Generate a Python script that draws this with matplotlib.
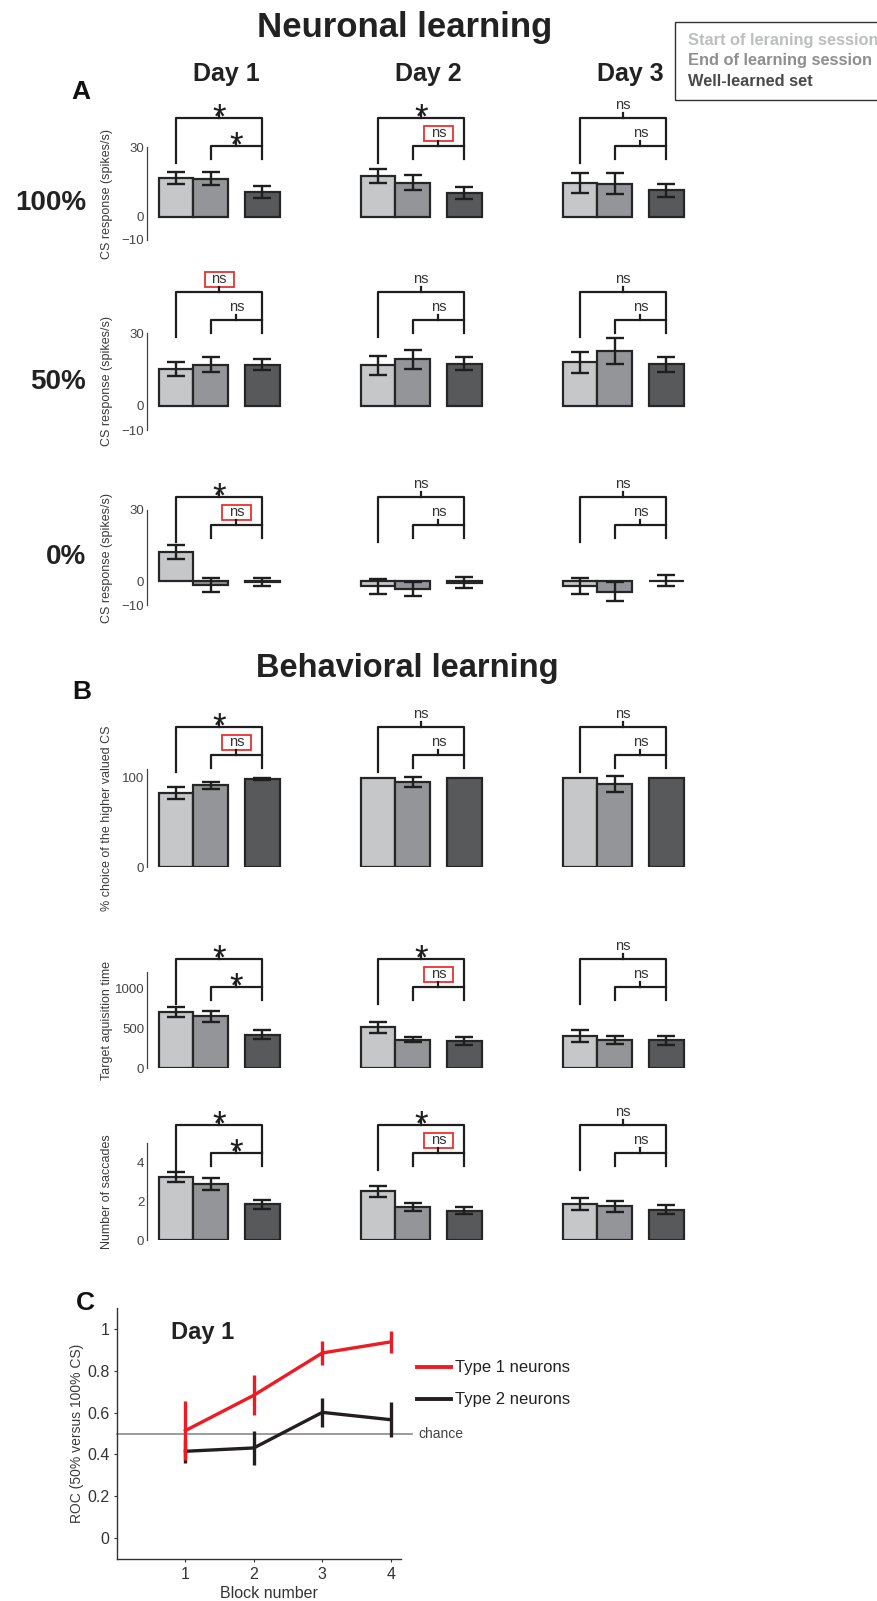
import numpy as np
import matplotlib
matplotlib.use('Agg')
import matplotlib.pyplot as plt
from matplotlib import font_manager
from matplotlib.transforms import blended_transform_factory
from matplotlib.patches import Rectangle
from matplotlib.lines import Line2D

# ---- data ----
days = ['Day 1', 'Day 2', 'Day 3']
conditions = ['Start of leraning session', 'End of learning session', 'Well-learned set']

# CS response (spikes/s) per day: [start, end, well-learned]
cs100_mean = [[16.7, 16.4, 10.7], [17.6, 14.7, 10.3], [14.7, 14.3, 11.4]]
cs100_sem = [[2.6, 2.9, 2.6], [3.1, 3.2, 2.6], [4.3, 4.4, 2.9]]
cs50_mean = [[15.1, 17.0, 17.0], [16.7, 19.1, 17.4], [17.9, 22.6, 17.2]]
cs50_sem = [[2.8, 3.1, 2.1], [4.0, 4.0, 2.5], [4.3, 5.3, 3.1]]
cs0_mean = [[12.3, -1.6, -0.3], [-2.2, -3.3, -0.7], [-2.1, -4.4, 0.3]]
cs0_sem = [[3.1, 3.0, 1.7], [3.2, 3.0, 2.3], [3.4, 4.0, 2.3]]

# behaviour
choice_mean = [[83, 91.5, 99], [100, 95.5, 100], [100, 93, 100]]
choice_sem = [[7.2, 4.3, 1.0], [0, 5.8, 0], [0, 8.7, 0]]
acq_mean = [[700, 646, 417], [508, 354, 333], [396, 354, 346]]
acq_sem = [[62, 65, 52], [69, 30, 50], [77, 52, 58]]
sacc_mean = [[3.25, 2.9, 1.83], [2.52, 1.70, 1.51], [1.86, 1.74, 1.57]]
sacc_sem = [[0.26, 0.30, 0.23], [0.28, 0.20, 0.19], [0.32, 0.29, 0.22]]

# significance per day: (start vs well-learned, end vs well-learned)
sig_cs100 = [('*', '*'), ('*', 'ns'), ('ns', 'ns')]
sig_cs50 = [('ns', 'ns'), ('ns', 'ns'), ('ns', 'ns')]
sig_cs0 = [('*', 'ns'), ('ns', 'ns'), ('ns', 'ns')]
sig_choice = [('*', 'ns'), ('ns', 'ns'), ('ns', 'ns')]
sig_acq = [('*', '*'), ('*', 'ns'), ('ns', 'ns')]
sig_sacc = [('*', '*'), ('*', 'ns'), ('ns', 'ns')]
# which label gets a red box (0 = upper bracket, 1 = lower bracket)
box_cs100 = [None, 1, None]
box_cs50 = [0, None, None]
box_cs0 = [1, None, None]
box_choice = [1, None, None]
box_acq = [None, 1, None]
box_sacc = [None, 1, None]

# ROC over blocks, day 1
blocks = [1, 2, 3, 4]
type1_roc = [0.514, 0.683, 0.885, 0.938]
type1_err = [0.143, 0.096, 0.058, 0.053]
type2_roc = [0.415, 0.431, 0.601, 0.566]
type2_err = [0.056, 0.080, 0.070, 0.084]

# ---- fonts / figure ----
names = {f.name for f in font_manager.fontManager.ttflist}
narrow = 'Liberation Sans Narrow' if 'Liberation Sans Narrow' in names else 'Liberation Sans'
plt.rcParams['font.family'] = ['Liberation Sans', 'DejaVu Sans']

W, H = 877, 1601
fig = plt.figure(figsize=(W / 100, H / 100), dpi=100)


def fy(py):
    return 1 - py / H


def fx(px):
    return px / W


bar_colors = ['#c6c7c9', '#939598', '#58595b']
edge = '#262626'
ink = '#1e1e1e'
label_grey = '#3a3a3a'

# bar layout in pixels
X0, BW, DAY_STEP = 176, 34.5, 202
AX_L, AX_R = 147, 700
slots = [0, 1, 2.5]
day_shift = DAY_STEP / BW


def sig_label(ax, tr, xm, y, lab, boxed):
    if lab == '*':
        ax.text(xm, fy(y - 5 + 15), '*', transform=tr, ha='center', va='baseline',
                fontsize=25, color=ink, clip_on=False)
    else:
        ax.text(xm, fy(y - 13), 'ns', transform=tr, ha='center', va='center',
                fontsize=10.5, family=narrow, color='#333333', clip_on=False)
        if boxed:
            ax.add_patch(Rectangle((xm - 0.42, fy(y - 5)), 0.84, 15 / H, transform=tr,
                                   fill=False, ec='#e8312f', lw=1.3, clip_on=False))


def brackets(ax, d, T, labs, box):
    tr = blended_transform_factory(ax.transData, fig.transFigure)
    xa, xb, xc = [d * day_shift + s for s in slots]
    L = T + 28
    kw = dict(color=ink, lw=1.6, transform=tr, clip_on=False)
    ax.plot([xa, xa, xc, xc], [fy(T + 45), fy(T), fy(T), fy(T + 41)], **kw)
    ax.plot([xb, xb, xc], [fy(L + 13), fy(L), fy(L)], **kw)
    for i, (xm, y) in enumerate([((xa + xc) / 2, T), ((xb + xc) / 2, L)]):
        ax.plot([xm, xm], [fy(y), fy(y - 5)], **kw)
        sig_label(ax, tr, xm, y, labs[i], box == i)


def bar_row(top_px, bottom_px, ylim, yticks, ylabel, means, sems, sigs, boxes, bracket_top):
    ax = fig.add_axes([fx(AX_L), fy(bottom_px), fx(AX_R) - fx(AX_L), (bottom_px - top_px) / H])
    ax.set_xlim((AX_L - X0) / BW, (AX_R - X0) / BW)
    ax.set_ylim(*ylim)
    for d in range(3):
        xs = [d * day_shift + s for s in slots]
        ax.bar(xs, means[d], width=1.0, color=bar_colors, edgecolor=edge, linewidth=1.6, zorder=2)
        for x, m, s in zip(xs, means[d], sems[d]):
            if s > 0:
                ax.errorbar(x, m, yerr=s, color=ink, lw=1.7, capsize=6.5, capthick=1.7, zorder=3)
        brackets(ax, d, bracket_top, sigs[d], boxes[d])
    for sp in ['top', 'right', 'bottom']:
        ax.spines[sp].set_visible(False)
    ax.spines['left'].set_color('#444444')
    ax.spines['left'].set_linewidth(0.9)
    ax.set_xticks([])
    ax.set_yticks(yticks)
    ax.tick_params(axis='y', length=0, pad=2, labelsize=9.5, labelcolor='#444444')
    for t in ax.get_yticklabels():
        t.set_family(narrow)
    fig.text(fx(107), fy((top_px + bottom_px) / 2), ylabel, rotation=90, ha='center', va='center',
             fontsize=9, color=label_grey)
    return ax


# ---- panel A: neuronal learning ----
bar_row(147, 240, (-10, 30), [-10, 0, 30], 'CS response (spikes/s)', cs100_mean, cs100_sem, sig_cs100, box_cs100, 118)
bar_row(333, 430, (-10, 30), [-10, 0, 30], 'CS response (spikes/s)', cs50_mean, cs50_sem, sig_cs50, box_cs50, 292)
bar_row(510, 605, (-10, 30), [-10, 0, 30], 'CS response (spikes/s)', cs0_mean, cs0_sem, sig_cs0, box_cs0, 497)

# ---- panel B: behavioural learning ----
bar_row(769, 867, (0, 110), [0, 100], '% choice of the higher valued CS', choice_mean, choice_sem, sig_choice, box_choice, 727)
bar_row(972, 1068, (0, 1200), [0, 500, 1000], 'Target aquisition time', acq_mean, acq_sem, sig_acq, box_acq, 959)
bar_row(1143, 1240, (0, 5), [0, 2, 4], 'Number of saccades', sacc_mean, sacc_sem, sig_sacc, box_sacc, 1125)

# titles and panel letters
fig.text(fx(405), fy(27), 'Neuronal learning', ha='center', va='center', fontsize=25, fontweight='bold', color='#222222')
fig.text(fx(407), fy(668), 'Behavioral learning', ha='center', va='center', fontsize=23.5, fontweight='bold', color='#222222')
for lab, x, y in [('A', 81, 92), ('B', 82, 692), ('C', 85, 1303)]:
    fig.text(fx(x), fy(y), lab, ha='center', va='center', fontsize=19, fontweight='bold', color='#111111')
for d, name in enumerate(days):
    fig.text(fx(X0 + d * DAY_STEP + 50), fy(74), name, ha='center', va='center',
             fontsize=18, fontweight='bold', color='#222222')
for lab, y in [('100%', 203), ('50%', 382), ('0%', 557)]:
    fig.text(fx(86), fy(y), lab, ha='right', va='center', fontsize=20, fontweight='bold', color='#222222')

# condition key, top right
fig.add_artist(Rectangle((fx(675), fy(100)), fx(230), 78 / H, transform=fig.transFigure,
                         fill=False, ec='#333333', lw=1.0))
for i, (cond, c) in enumerate(zip(conditions, ['#bdbebf', '#8e8f91', '#4a4a4c'])):
    fig.text(fx(688), fy(40 + 21 * i), cond, ha='left', va='center', fontsize=11.8,
             fontweight='bold', color=c)

# ---- panel C: ROC over blocks ----
axc = fig.add_axes([fx(117), fy(1559), fx(401) - fx(117), (1559 - 1308) / H])
axc.set_xlim(0, 4.15)
axc.set_ylim(-0.1, 1.1)
axc.plot([0, 4.31], [0.5, 0.5], color='#8a8a8a', lw=1.2, clip_on=False, zorder=1)
axc.text(4.4, 0.5, 'chance', ha='left', va='center', fontsize=10, family=narrow, color='#444444')
axc.errorbar(blocks, type2_roc, yerr=type2_err, color='#231f20', lw=2.4, elinewidth=2.4, capsize=0, zorder=2)
axc.errorbar(blocks, type1_roc, yerr=type1_err, color='#ed1c24', lw=2.4, elinewidth=2.4, capsize=0, zorder=3)
for sp in ['top', 'right']:
    axc.spines[sp].set_visible(False)
for sp in ['left', 'bottom']:
    axc.spines[sp].set_color('#333333')
    axc.spines[sp].set_linewidth(1.0)
axc.set_xticks(blocks)
axc.set_yticks([0, 0.2, 0.4, 0.6, 0.8, 1])
axc.set_yticklabels(['0', '0.2', '0.4', '0.6', '0.8', '1'])
axc.tick_params(length=2.5, width=0.8, color='#333333', labelsize=11.5, labelcolor='#333333', pad=3)
fig.text(fx(77), fy(1433), 'ROC (50% versus 100% CS)', rotation=90, ha='center', va='center',
         fontsize=10, color=label_grey)
fig.text(fx(269), fy(1593), 'Block number', ha='center', va='center', fontsize=11.5, color='#333333')
axc.text(1.25, 0.985, 'Day 1', ha='center', va='center', fontsize=17, fontweight='bold', color='#222222')

# legend for the two neuron types
for i, (lab, c) in enumerate([('Type 1 neurons', '#ed1c24'), ('Type 2 neurons', '#231f20')]):
    y = 1367 + 32 * i
    fig.add_artist(Line2D([fx(417), fx(451)], [fy(y), fy(y)], transform=fig.transFigure, color=c, lw=2.8))
    fig.text(fx(455), fy(y), lab, ha='left', va='center', fontsize=12, color='#222222')

fig.savefig('out.png', dpi=100)
